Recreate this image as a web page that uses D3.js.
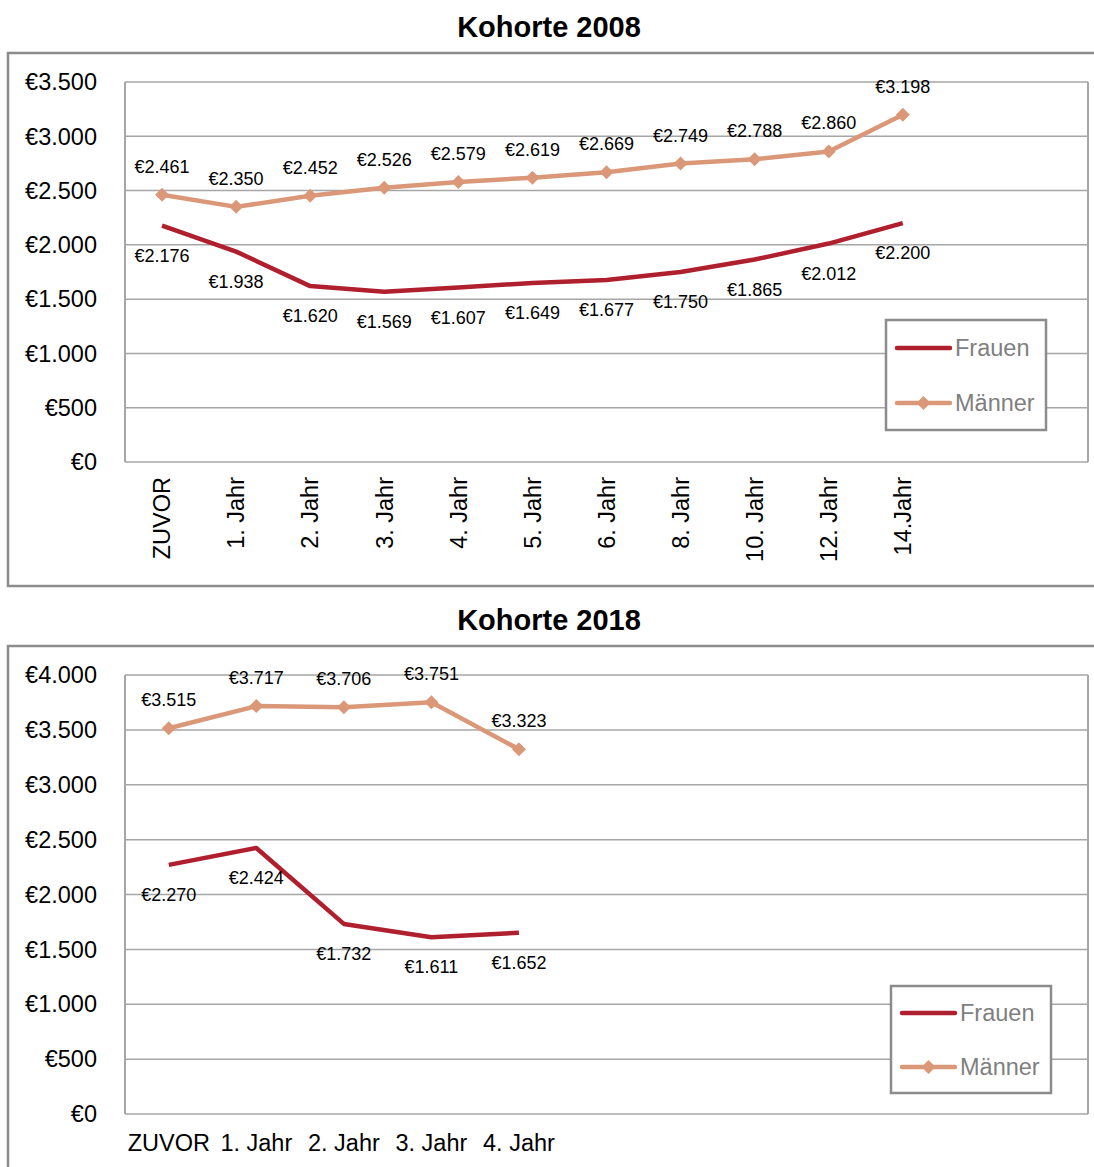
<!DOCTYPE html>
<html lang="de">
<head>
<meta charset="UTF-8">
<title>Kohorte 2008 / 2018</title>
<script src="https://d3js.org/d3.v7.min.js"></script>
<style>
    body { margin: 0; background: #fff; }
    svg text { font-family: "Liberation Sans", Arial, sans-serif; }
</style>
</head>
<body>
<script>
// Kohorte 2008
var categories2008 = ["ZUVOR", "1. Jahr", "2. Jahr", "3. Jahr", "4. Jahr", "5. Jahr", "6. Jahr", "8. Jahr", "10. Jahr", "12. Jahr", "14.Jahr"];
var frauen2008 = [2176, 1938, 1620, 1569, 1607, 1649, 1677, 1750, 1865, 2012, 2200];
var maenner2008 = [2461, 2350, 2452, 2526, 2579, 2619, 2669, 2749, 2788, 2860, 3198];
var yTicks2008 = [0, 500, 1000, 1500, 2000, 2500, 3000, 3500];

// Kohorte 2018
var categories2018 = ["ZUVOR", "1. Jahr", "2. Jahr", "3. Jahr", "4. Jahr"];
var frauen2018 = [2270, 2424, 1732, 1611, 1652];
var maenner2018 = [3515, 3717, 3706, 3751, 3323];
var yTicks2018 = [0, 500, 1000, 1500, 2000, 2500, 3000, 3500, 4000];

var seriesNames = ["Frauen", "Männer"];

var colFrauen = "#b01f2e";
var colMaenner = "#da9878";
var gridCol = "#a6a6a6";

var de = d3.formatLocale({decimal: ",", thousands: ".", grouping: [3], currency: ["€", ""]});
var fmt = de.format("$,.0f");

var svg = d3.select("body").append("svg")
    .attr("width", 1094)
    .attr("height", 1167);

svg.append("rect").attr("width", 1094).attr("height", 1167).attr("fill", "#fff");

function drawChart(o) {
    var g = svg.append("g");

    // outer frame
    g.append("rect")
        .attr("x", 8).attr("y", o.frameTop)
        .attr("width", 1100).attr("height", o.frameH)
        .attr("fill", "none").attr("stroke", "#8c8c8c").attr("stroke-width", 2.5);

    g.append("text")
        .attr("x", 549).attr("y", o.titleY)
        .attr("text-anchor", "middle")
        .attr("font-size", "29px").attr("font-weight", "bold")
        .text(o.title);

    var left = 125, right = 1088;
    var step = (right - left) / o.slots;
    var x = d3.scaleBand().domain(o.cats).range([left, left + step * o.cats.length]);
    var cx = function (i) { return x(o.cats[i]) + x.bandwidth() / 2; };
    var y = d3.scaleLinear().domain([0, d3.max(o.ticks)]).range([o.bottom, o.top]);

    // grid
    g.selectAll(".grid").data(o.ticks).enter().append("line")
        .attr("x1", left).attr("x2", right)
        .attr("y1", function (d) { return y(d); })
        .attr("y2", function (d) { return y(d); })
        .attr("stroke", gridCol).attr("stroke-width", 1.5);
    g.append("line").attr("x1", left).attr("x2", left).attr("y1", o.top).attr("y2", o.bottom)
        .attr("stroke", gridCol).attr("stroke-width", 2);
    g.append("line").attr("x1", right).attr("x2", right).attr("y1", o.top).attr("y2", o.bottom)
        .attr("stroke", gridCol).attr("stroke-width", 2);

    // y axis labels
    g.selectAll(".ytick").data(o.ticks).enter().append("text")
        .attr("x", 97).attr("y", function (d) { return y(d); })
        .attr("dy", "0.35em")
        .attr("text-anchor", "end")
        .attr("font-size", "23.5px")
        .text(function (d) { return fmt(d); });

    // x axis labels
    var xl = g.selectAll(".xtick").data(o.cats).enter().append("text")
        .attr("font-size", "23.5px")
        .text(function (d) { return d; });
    if (o.rotate) {
        xl.attr("transform", function (d, i) { return "translate(" + cx(i) + "," + (o.bottom + 15) + ") rotate(-90)"; })
            .attr("text-anchor", "end").attr("dy", "0.35em");
    } else {
        xl.attr("x", function (d, i) { return cx(i); })
            .attr("y", o.bottom + 37)
            .attr("text-anchor", "middle");
    }

    var line = d3.line()
        .x(function (d, i) { return cx(i); })
        .y(function (d) { return y(d); });

    g.append("path").datum(o.frauen)
        .attr("d", line).attr("fill", "none")
        .attr("stroke", colFrauen).attr("stroke-width", 4.5).attr("stroke-linejoin", "round");
    g.append("path").datum(o.maenner)
        .attr("d", line).attr("fill", "none")
        .attr("stroke", colMaenner).attr("stroke-width", 4.5).attr("stroke-linejoin", "round");

    var diamond = d3.symbol().type(d3.symbolSquare).size(98);
    g.selectAll(".mk").data(o.maenner).enter().append("path")
        .attr("d", diamond)
        .attr("transform", function (d, i) { return "translate(" + cx(i) + "," + y(d) + ") rotate(45)"; })
        .attr("fill", colMaenner);

    // data labels
    g.selectAll(".lm").data(o.maenner).enter().append("text")
        .attr("x", function (d, i) { return cx(i); })
        .attr("y", function (d) { return y(d) - 22; })
        .attr("text-anchor", "middle").attr("font-size", "18px")
        .text(function (d) { return fmt(d); });
    g.selectAll(".lf").data(o.frauen).enter().append("text")
        .attr("x", function (d, i) { return cx(i); })
        .attr("y", function (d) { return y(d) + 36; })
        .attr("text-anchor", "middle").attr("font-size", "18px")
        .text(function (d) { return fmt(d); });

    // legend
    var lg = g.append("g").attr("transform", "translate(" + o.legX + "," + o.legY + ")");
    lg.append("rect").attr("width", 160).attr("height", o.legH)
        .attr("fill", "#fff").attr("stroke", "#8c8c8c").attr("stroke-width", 2.5);
    seriesNames.forEach(function (name, i) {
        var ly = o.legRow0 + i * o.legGap;
        var c = i === 0 ? colFrauen : colMaenner;
        lg.append("line").attr("x1", 11).attr("x2", 64).attr("y1", ly).attr("y2", ly)
            .attr("stroke", c).attr("stroke-width", 4.5).attr("stroke-linecap", "round");
        if (i === 1) {
            lg.append("path").attr("d", diamond)
                .attr("transform", "translate(37.5," + ly + ") rotate(45)")
                .attr("fill", c);
        }
        lg.append("text").attr("x", 69).attr("y", ly).attr("dy", "0.35em")
            .attr("font-size", "23.5px").attr("fill", "#7f7f7f")
            .text(name);
    });
}

drawChart({
    title: "Kohorte 2008", titleY: 37,
    frameTop: 53, frameH: 533,
    top: 82, bottom: 462, slots: 13,
    cats: categories2008, frauen: frauen2008, maenner: maenner2008, ticks: yTicks2008,
    rotate: true,
    legX: 886, legY: 320, legH: 110, legRow0: 28, legGap: 55
});

drawChart({
    title: "Kohorte 2018", titleY: 630,
    frameTop: 646, frameH: 600,
    top: 675, bottom: 1114, slots: 11,
    cats: categories2018, frauen: frauen2018, maenner: maenner2018, ticks: yTicks2018,
    rotate: false,
    legX: 891, legY: 986, legH: 107, legRow0: 27, legGap: 54
});
</script>
</body>
</html>
